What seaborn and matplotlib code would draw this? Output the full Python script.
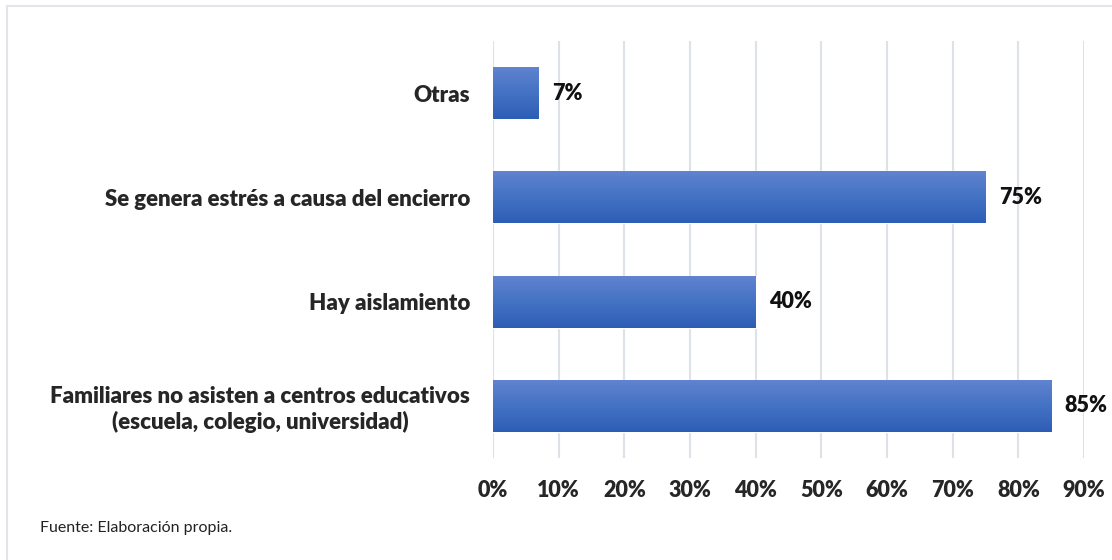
import numpy as np
import pandas as pd
import seaborn as sns
import matplotlib.pyplot as plt
from matplotlib.patches import Rectangle
from matplotlib.colors import LinearSegmentedColormap

categorias = ["Otras",
              "Se genera estrés a causa del encierro",
              "Hay aislamiento",
              "Familiares no asisten a centros educativos\n(escuela, colegio, universidad)"]
valores = [7, 75, 40, 85]
ticks = [0, 10, 20, 30, 40, 50, 60, 70, 80, 90]

df = pd.DataFrame({"categoria": categorias, "valor": valores})

sns.set_style("white")
plt.rcParams['font.family'] = ['Lato', 'DejaVu Sans']

fig = plt.figure(figsize=(11.12, 5.6), dpi=100)
ax = fig.add_axes([493 / 1112, 1 - 458 / 560, (1084 - 493) / 1112, (458 - 41) / 560])

sns.barplot(data=df, x="valor", y="categoria", color="#4472c4", width=0.5,
            ax=ax, zorder=3)

# degradado vertical en cada barra
cmap = LinearSegmentedColormap.from_list("azul", ["#6184cf", "#4472c4", "#2e5db6"])
grad = np.linspace(0, 1, 256).reshape(-1, 1)
for bar in ax.patches:
    x0, y0 = bar.get_x(), bar.get_y()
    w, h = bar.get_width(), bar.get_height()
    im = ax.imshow(grad, cmap=cmap, aspect="auto", extent=[x0, x0 + w, y0 + h, y0],
                   zorder=4, interpolation="bilinear")
    im.set_clip_path(bar)
    ax.text(x0 + w + 2.0, y0 + h / 2, f"{int(w)}%", va="center", ha="left",
            fontsize=15.5, fontweight="heavy", color="#111111", zorder=5)

ax.set_xlim(0, 90)
ax.set_ylim(3.5, -0.5)
ax.set_xticks(ticks)
ax.set_xticklabels([f"{t}%" for t in ticks], fontsize=15.5, fontweight="heavy")
ax.tick_params(axis="x", length=0, pad=16)
ax.tick_params(axis="y", length=0, pad=16.5, labelsize=16)
for lab in ax.get_yticklabels():
    lab.set_fontweight("heavy")
    lab.set_multialignment("center")
ax.set_xlabel("")
ax.set_ylabel("")
ax.grid(axis="x", color="#dde1e8", linewidth=1.5, zorder=0)
sns.despine(ax=ax, left=True, bottom=True)

# marco del gráfico
fig.patches.append(Rectangle((7 / 1112, -0.1), 1.2, 1 - 6 / 560 + 0.1,
                             transform=fig.transFigure, fill=False,
                             edgecolor="#e1e4e8", linewidth=1.5))

fig.text(40 / 1112, 1 - 528 / 560, "Fuente: Elaboración propia.", fontsize=11.5,
         va="center", ha="left", color="#222222")

fig.savefig("out.png", dpi=100)
